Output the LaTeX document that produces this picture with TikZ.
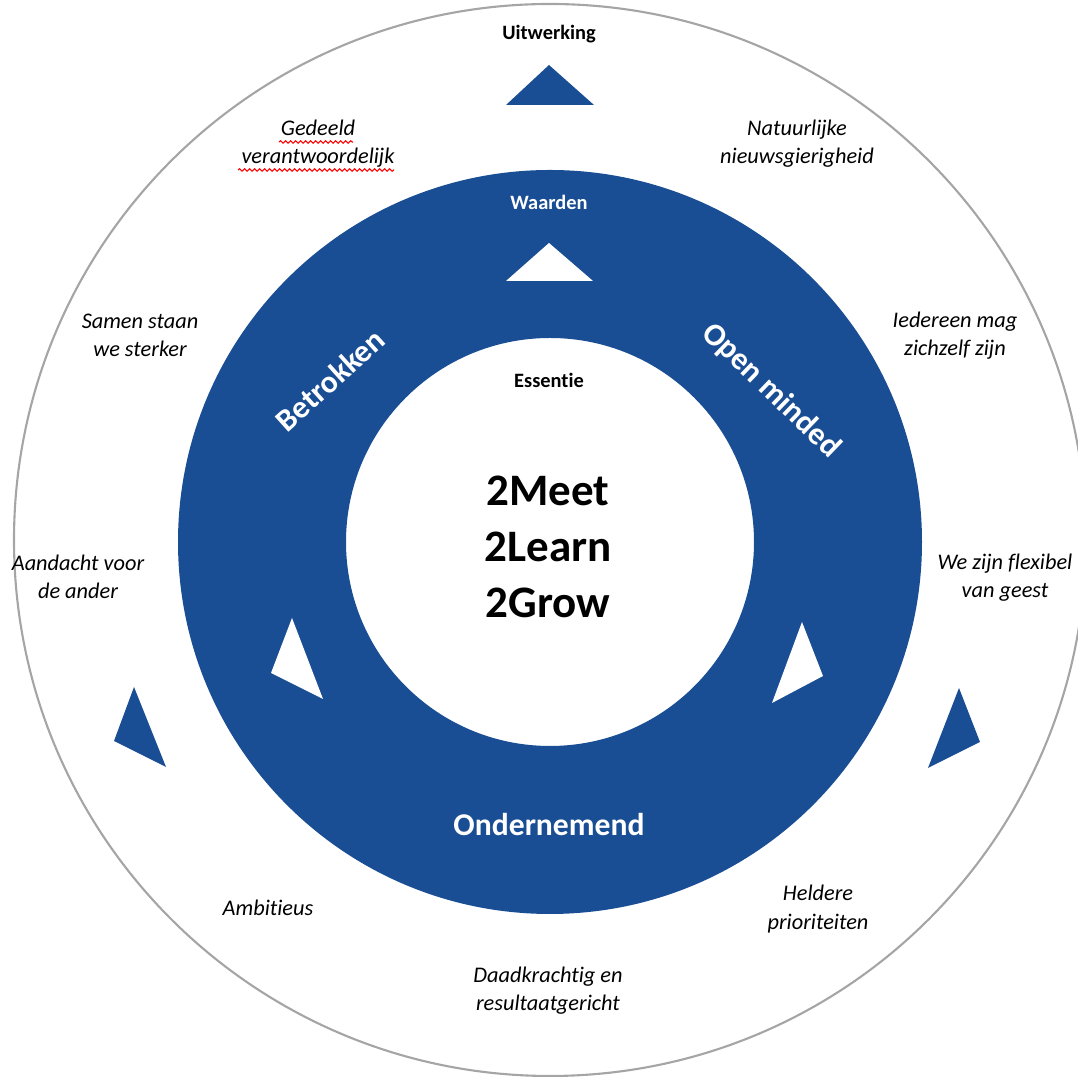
\documentclass[tikz,border=0pt]{standalone}
\usepackage{fontspec}
\setmainfont{Carlito}[Ligatures=NoCommon]
\usetikzlibrary{decorations.pathmorphing}
\definecolor{ringblue}{RGB}{26,78,148}
\definecolor{rimgray}{RGB}{165,165,165}

\begin{document}
\begin{tikzpicture}[x=0.01cm, y=-0.01cm,
    trait/.style={align=center, font=\fontsize{6.35}{8}\selectfont\itshape, inner sep=0pt},
    tag/.style={font=\fontsize{5.8}{7}\selectfont\bfseries, inner sep=0pt},
    value/.style={font=\fontsize{9}{11}\selectfont\bfseries, text=white, inner sep=0pt},
    spell/.style={red, line width=0.3pt, decorate, decoration={snake, amplitude=0.12mm, segment length=0.5mm}}]
    % Fix the page size
    \useasboundingbox (0,0) rectangle (1078,1077);
    \clip (0,0) rectangle (1078,1077);

    % Draw the rings
    \draw[rimgray, line width=0.6pt] (550,540) circle [radius=536];
    \fill[ringblue, even odd rule] (550,542) circle [radius=372] (550,542) circle [radius=204];

    % Blue arrows in the outer band
    \fill[ringblue] (549,65) -- (594,105) -- (506,105) -- cycle;
    \fill[ringblue] (134,687) -- (166,767) -- (114,741) -- cycle;
    \fill[ringblue] (959,688) -- (980,742) -- (928,768) -- cycle;

    % White arrows in the blue band
    \fill[white] (549,243) -- (593,281) -- (506,281) -- cycle;
    \fill[white] (292,618) -- (323,699) -- (271,673) -- cycle;
    \fill[white] (802,622) -- (823,676) -- (772,703) -- cycle;

    % Layer titles
    \node[tag] (uitwerking) at (549,34) {Uitwerking};
    \node[tag, text=white] (waarden) at (549,202) {Waarden};
    \node[tag] (essentie) at (549,380) {Essentie};
    \node[align=center, inner sep=0pt, font=\fontsize{12.8}{15.9}\selectfont\bfseries] (kern) at (548,547) {2Meet\\2Learn\\2Grow};

    % Values on the ring
    \node[value, rotate=42] (betrokken) at (330,380) {Betrokken};
    \node[value, rotate=-44] (openminded) at (771,391) {Open minded};
    \node[value] (ondernemend) at (549,825) {Ondernemend};

    % Traits in the outer band
    \node[trait] (gedeeld) at (318,144) {Gedeeld\\verantwoordelijk};
    \node[trait] (natuurlijk) at (797,144) {Natuurlijke\\nieuwsgierigheid};
    \node[trait] (samen) at (140,335) {Samen staan\\we sterker};
    \node[trait] (iedereen) at (955,336) {Iedereen mag\\zichzelf zijn};
    \node[trait] (aandacht) at (78,577) {Aandacht voor\\de ander};
    \node[trait] (flexibel) at (1005,578) {We zijn flexibel\\van geest};
    \node[trait] (ambitieus) at (268,908) {Ambitieus};
    \node[trait] (heldere) at (818,909) {Heldere\\prioriteiten};
    \node[trait] (daadkracht) at (548,991) {Daadkrachtig en\\resultaatgericht};

    % Spelling marks
    \draw[spell] (279,142) -- (353,142);
    \draw[spell] (238,170) -- (394,170);
\end{tikzpicture}
\end{document}
